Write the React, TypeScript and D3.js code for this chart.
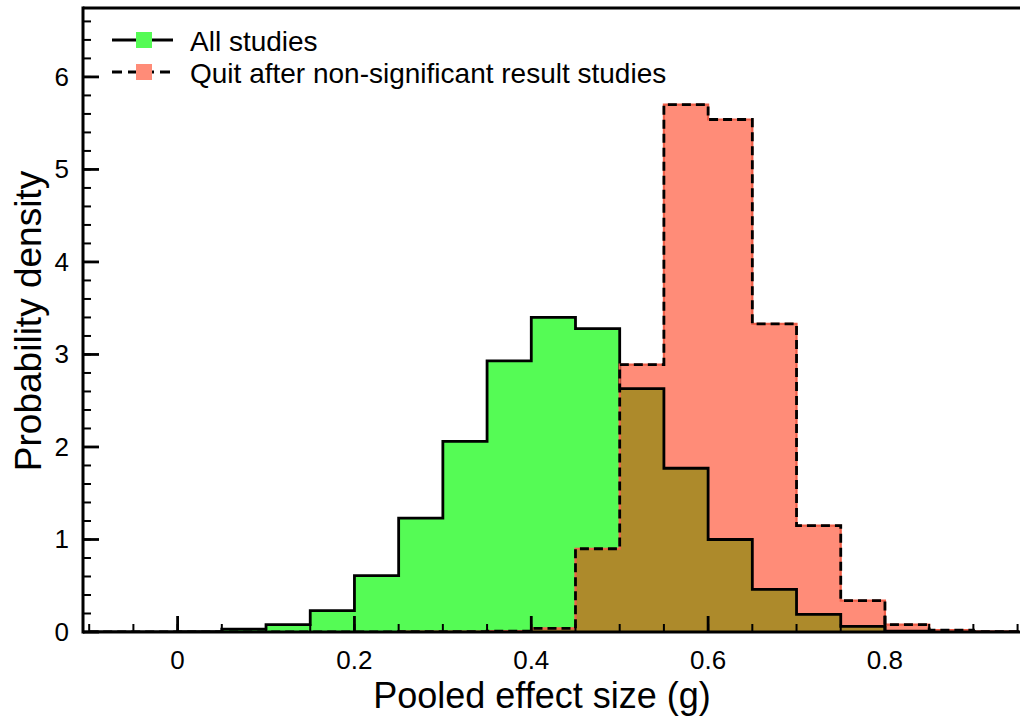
import React from "react";
import * as d3 from "d3";

const BIN_EDGES: number[] = [-0.1, -0.05, 0, 0.05, 0.1, 0.15, 0.2, 0.25, 0.3, 0.35, 0.4, 0.45, 0.5, 0.55, 0.6, 0.65, 0.7, 0.75, 0.8, 0.85, 0.9, 0.95];
const ALL_STUDIES: number[] = [0, 0, 0.005, 0.03, 0.08, 0.23, 0.61, 1.23, 2.06, 2.93, 3.4, 3.28, 2.63, 1.77, 1.0, 0.46, 0.19, 0.06, 0.01, 0, 0];
const QUIT_STUDIES: number[] = [0, 0, 0, 0, 0, 0, 0, 0.005, 0.005, 0.01, 0.04, 0.9, 2.89, 5.7, 5.54, 3.33, 1.15, 0.34, 0.08, 0.02, 0.003];
const X_MAJOR_TICKS: number[] = [0, 0.2, 0.4, 0.6, 0.8];
const X_TICK_LABELS: string[] = ["0", "0.2", "0.4", "0.6", "0.8"];
const Y_MAJOR_TICKS: number[] = [0, 1, 2, 3, 4, 5, 6];
const LEGEND_LABELS: string[] = ["All studies", "Quit after non-significant result studies"];

const GREEN = "#55fb55";
const SALMON = "#ff8c78";
const OLIVE = "#ad8a2b";

const W = 1020;
const H = 725;
const L = 83;
const T = 8;
const B = 632;
const R = 1022;

export default function App() {
  const x = d3.scaleLinear().domain([-0.107, 0.955]).range([L, R]);
  const y = d3.scaleLinear().domain([0, 6.745]).range([B, T]);

  const stepPath = (vals: number[], close: boolean) => {
    let d = `M${x(BIN_EDGES[0])},${y(0)}`;
    vals.forEach((v, i) => {
      d += `L${x(BIN_EDGES[i])},${y(v)}L${x(BIN_EDGES[i + 1])},${y(v)}`;
    });
    d += `L${x(BIN_EDGES[vals.length])},${y(0)}`;
    if (close) d += "Z";
    return d;
  };
  const overlap = ALL_STUDIES.map((v, i) => Math.min(v, QUIT_STUDIES[i]));

  const xMinor = d3.range(-0.1, 0.96, 0.05);
  const yMinor = d3.range(0, 6.75, 0.2);
  const font = "'Liberation Sans', Arial, Helvetica, sans-serif";

  return (
    <svg width={W} height={H} style={{ position: "absolute", left: 0, top: 0, background: "#fff" }} fontFamily={font}>
      <defs>
        <clipPath id="plotclip">
          <rect x={L} y={T} width={W - L} height={B - T} />
        </clipPath>
      </defs>
      <g clipPath="url(#plotclip)">
        <path d={stepPath(ALL_STUDIES, true)} fill={GREEN} />
        <path d={stepPath(QUIT_STUDIES, true)} fill={SALMON} />
        <path d={stepPath(overlap, true)} fill={OLIVE} />
        <path d={stepPath(ALL_STUDIES, false)} fill="none" stroke="#000" strokeWidth={2.8} strokeLinejoin="miter" />
        <path d={stepPath(QUIT_STUDIES, false)} fill="none" stroke="#f0604a" strokeWidth={2.2} />
        <path d={stepPath(QUIT_STUDIES, false)} fill="none" stroke="#000" strokeWidth={2.8} strokeDasharray="9,5" />
      </g>
      {xMinor.map((t, i) => (
        <line key={"xm" + i} x1={x(t)} x2={x(t)} y1={B} y2={B - 8} stroke="#000" strokeWidth={2} />
      ))}
      {X_MAJOR_TICKS.map((t, i) => (
        <line key={"xM" + i} x1={x(t)} x2={x(t)} y1={B} y2={B - 16} stroke="#000" strokeWidth={2.8} />
      ))}
      {yMinor.map((t, i) => (
        <line key={"ym" + i} x1={L} x2={L + 8} y1={y(t)} y2={y(t)} stroke="#000" strokeWidth={2} />
      ))}
      {Y_MAJOR_TICKS.map((t, i) => (
        <line key={"yM" + i} x1={L} x2={L + 16} y1={y(t)} y2={y(t)} stroke="#000" strokeWidth={2.8} />
      ))}
      <line x1={L} x2={W} y1={T} y2={T} stroke="#000" strokeWidth={3} />
      <line x1={L} x2={W} y1={B} y2={B} stroke="#000" strokeWidth={3} />
      <line x1={L} x2={L} y1={T - 1.5} y2={B + 1.5} stroke="#000" strokeWidth={3} />
      {X_MAJOR_TICKS.map((t, i) => (
        <text key={"xl" + i} x={x(t)} y={669} textAnchor="middle" fontSize={26} fill="#000">
          {X_TICK_LABELS[i]}
        </text>
      ))}
      {Y_MAJOR_TICKS.map((t, i) => (
        <text key={"yl" + i} x={69} y={y(t) + 9} textAnchor="end" fontSize={26} fill="#000">
          {String(t)}
        </text>
      ))}
      <text x={542} y={708} textAnchor="middle" fontSize={36} fill="#000">
        Pooled effect size (g)
      </text>
      <text transform={`translate(41,${321}) rotate(-90)`} textAnchor="middle" fontSize={37} fill="#000">
        Probability density
      </text>
      <line x1={112} x2={173} y1={40} y2={40} stroke="#000" strokeWidth={3} />
      <rect x={136} y={32} width={16} height={16} fill={GREEN} />
      <text x={190} y={51} fontSize={28} fill="#000">{LEGEND_LABELS[0]}</text>
      <line x1={112} x2={173} y1={72} y2={72} stroke="#000" strokeWidth={3} strokeDasharray="10,6" />
      <rect x={136} y={64} width={16} height={16} fill={SALMON} />
      <text x={190} y={83} fontSize={28} fill="#000">{LEGEND_LABELS[1]}</text>
    </svg>
  );
}
